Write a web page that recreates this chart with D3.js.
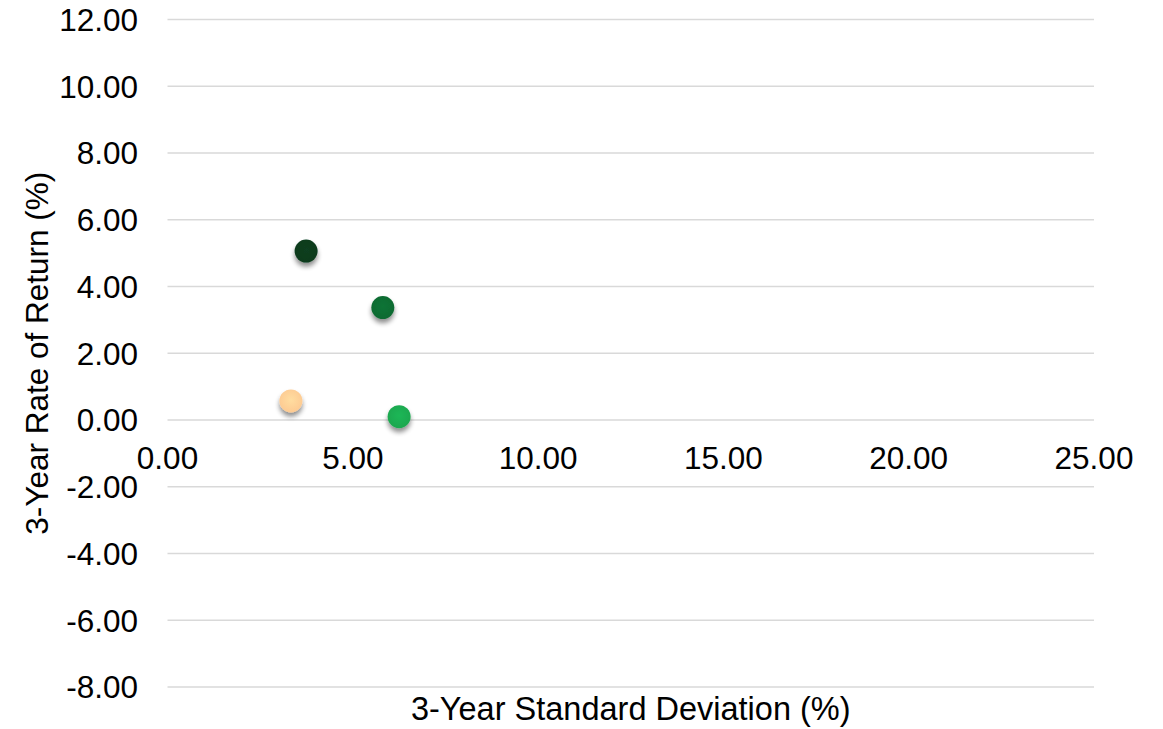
<!DOCTYPE html>
<html><head><meta charset="utf-8">
<script src="https://cdn.jsdelivr.net/npm/d3@7"></script>
<style>body{margin:0;background:#fff}text{font-family:"Liberation Sans",Arial,sans-serif;fill:#000}</style>
</head><body>
<svg id="c" width="1163" height="729"></svg>
<script>
const stdDev = [3.74, 5.81, 3.33, 6.25];
const returns = [5.06, 3.37, 0.57, 0.10];
const colors = ["#0b3a1d", "#0f6a31", "#fdca92", "#1ba74f"];
const xTicks = [0, 5, 10, 15, 20, 25];
const yTicks = [-8, -6, -4, -2, 0, 2, 4, 6, 8, 10, 12];
const xTitle = "3-Year Standard Deviation (%)";
const yTitle = "3-Year Rate of Return (%)";

const svg = d3.select("#c");
const x = d3.scaleLinear().domain([0, 25]).range([167.5, 1094]);
const y = d3.scaleLinear().domain([-8, 12]).range([687, 19.5]);
const fs = 31.5;

const defs = svg.append("defs");
const f = defs.append("filter").attr("id","sh").attr("x","-50%").attr("y","-50%").attr("width","200%").attr("height","220%");
f.append("feGaussianBlur").attr("in","SourceAlpha").attr("stdDeviation",2.5).attr("result","b");
f.append("feOffset").attr("in","b").attr("dx",0).attr("dy",4).attr("result","o");
f.append("feComponentTransfer").attr("in","o").attr("result","o2").append("feFuncA").attr("type","linear").attr("slope",0.45);
const m = f.append("feMerge"); m.append("feMergeNode").attr("in","o2"); m.append("feMergeNode").attr("in","SourceGraphic");

colors.forEach((c,i)=>{
  const g = defs.append("radialGradient").attr("id","g"+i).attr("cx","50%").attr("cy","45%").attr("r","55%");
  g.append("stop").attr("offset","0%").attr("stop-color", d3.color(c).brighter(0.25));
  g.append("stop").attr("offset","100%").attr("stop-color", c);
});

// gridlines
svg.append("g").selectAll("line").data(yTicks).join("line")
  .attr("x1", x(0)).attr("x2", x(25)).attr("y1", d=>y(d)).attr("y2", d=>y(d))
  .attr("stroke", "#d9d9d9").attr("stroke-width", 1.5);

// y tick labels
svg.append("g").selectAll("text").data(yTicks).join("text")
  .attr("x", 138).attr("y", d=>y(d)+11.3).attr("text-anchor","end")
  .style("font-size", fs+"px").text(d=>d.toFixed(2));

// x tick labels
svg.append("g").selectAll("text").data(xTicks).join("text")
  .attr("x", d=>x(d)).attr("y", 468.5).attr("text-anchor","middle")
  .style("font-size", fs+"px").text(d=>d.toFixed(2));

// titles
svg.append("text").attr("x", (x(0)+x(25))/2).attr("y", 720).attr("text-anchor","middle")
  .style("font-size", "32.5px").text(xTitle);
svg.append("text").attr("transform", `translate(48,${(y(12)+y(-8))/2}) rotate(-90)`).attr("text-anchor","middle")
  .style("font-size", "31.5px").text(yTitle);

// points
svg.append("g").selectAll("circle").data(stdDev).join("circle")
  .attr("cx", (d)=>x(d)).attr("cy", (d,i)=>y(returns[i])).attr("r", 11.5)
  .attr("fill", (d,i)=>`url(#g${i})`).attr("filter","url(#sh)");
</script>
</body></html>
